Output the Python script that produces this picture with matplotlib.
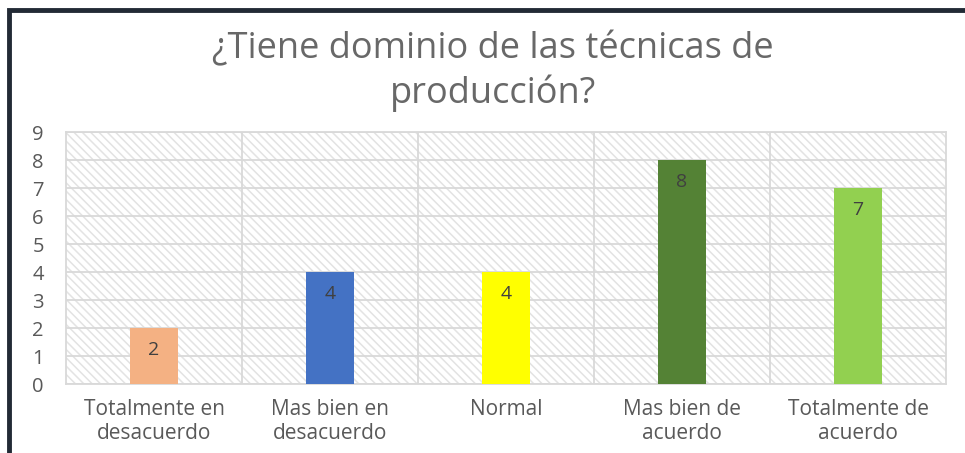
import matplotlib.pyplot as plt
from matplotlib.patches import Rectangle

categorias = ['Totalmente en\ndesacuerdo', 'Mas bien en\ndesacuerdo', 'Normal',
              'Mas bien de\nacuerdo', 'Totalmente de\nacuerdo']
valores = [2, 4, 4, 8, 7]
colores = ['#f4b183', '#4472c4', '#ffff00', '#548235', '#92d050']
titulo = '¿Tiene dominio de las técnicas de\nproducción?'

plt.rcParams['font.family'] = ['Open Sans', 'DejaVu Sans']
plt.rcParams['hatch.linewidth'] = 1.1
plt.rcParams['hatch.color'] = '#e3e3e3'

fig = plt.figure(figsize=(9.65, 4.53), dpi=100)
ax = fig.add_axes([66 / 965, 1 - 384 / 453, 880 / 965, 252 / 453])

# hatched background of plot area
ax.patch.set_facecolor('white')
ax.patch.set_hatch('\\\\\\\\')
ax.patch.set_edgecolor('#e3e3e3')

x = range(len(categorias))
bars = ax.bar(x, valores, width=0.27, color=colores, zorder=3)
for b, v in zip(bars, valores):
    ax.text(b.get_x() + b.get_width() / 2, v - 0.78, str(v), ha='center', va='center',
            fontsize=14, color='#404040', zorder=4)

ax.set_xlim(-0.5, len(categorias) - 0.5)
ax.set_ylim(0, 9)
ax.set_yticks(range(0, 10))
ax.set_xticks(list(x))
ax.set_xticklabels(categorias, fontsize=15, color='#595959', linespacing=1.15)
ax.tick_params(axis='y', labelsize=14.5, labelcolor='#595959', length=0, pad=16)
ax.tick_params(axis='x', length=0, pad=11)

ax.grid(axis='y', color='#d9d9d9', linewidth=1.3, zorder=1)
for i in range(1, len(categorias)):
    ax.axvline(i - 0.5, color='#d9d9d9', linewidth=1.3, zorder=1)
for s in ax.spines.values():
    s.set_color('#d9d9d9')
    s.set_linewidth(1.3)
ax.set_axisbelow(True)

fig.text(493 / 965, 1 - 72 / 453, titulo, ha='center', va='center', fontsize=26,
         color='#686868', linespacing=1.25)

# dark frame on top and left edge
fig.patches.append(Rectangle((9 / 965, -0.1), 2.0, 1.1 - 10 / 453, transform=fig.transFigure,
                             fill=False, edgecolor='#222a35', linewidth=3.5))

fig.savefig('out.png', dpi=100)
